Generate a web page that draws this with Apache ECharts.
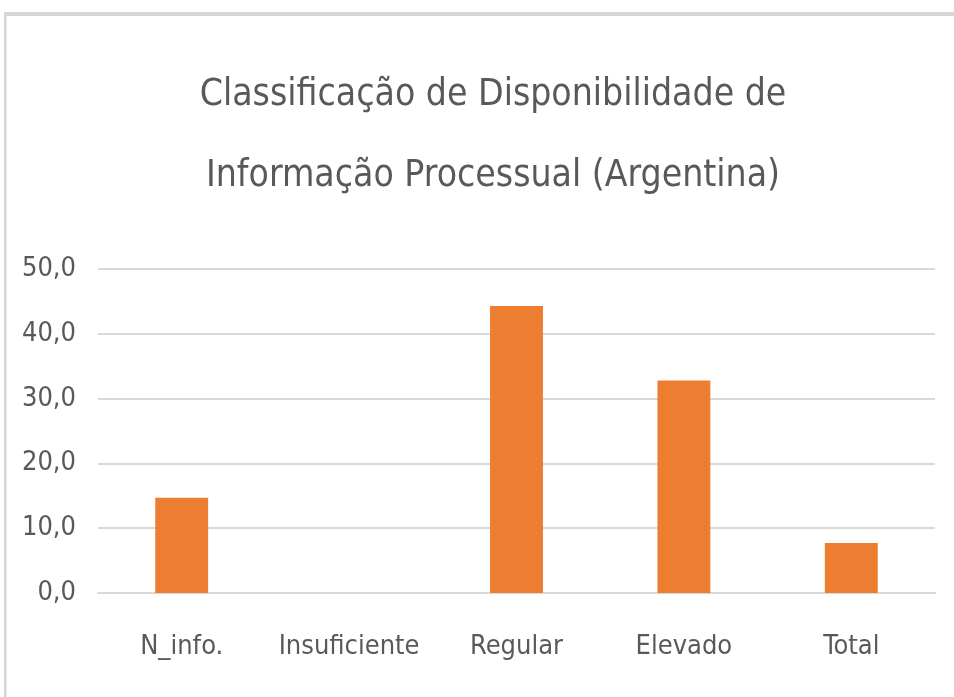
<!DOCTYPE html>
<html>
<head>
<meta charset="utf-8">
<style>
  html, body { margin: 0; padding: 0; background: #fff; }
  #chart { width: 954px; height: 697px; }
</style>
<script src="https://cdn.jsdelivr.net/npm/echarts@6/dist/echarts.min.js"></script>
</head>
<body>
<div id="chart"></div>
<script>
// data
var categories = ['N_info.', 'Insuficiente', 'Regular', 'Elevado', 'Total']
var values = [14.7, 0, 44.3, 32.8, 7.7]
var yTicks = [0, 10, 20, 30, 40, 50]

var font = '"DejaVu Sans Condensed", "Liberation Sans Narrow", sans-serif'
var chart = echarts.init(document.getElementById('chart'))

chart.setOption({
  animation: false,
  // frame around the chart area
  graphic: [
    { type: 'rect', shape: { x: 4, y: 12, width: 960, height: 4 }, style: { fill: '#d6d6d6' } },
    { type: 'rect', shape: { x: 4, y: 12, width: 2.5, height: 700 }, style: { fill: '#d6d6d6' } }
  ],
  title: {
    text: 'Classificação de Disponibilidade de\nInformação Processual (Argentina)',
    left: 488,
    textAlign: 'center',
    top: 50,
    textStyle: {
      fontFamily: font,
      fontSize: 37,
      fontWeight: 'normal',
      color: '#595959',
      lineHeight: 81
    }
  },
  grid: {
    left: 98,
    right: 19,
    top: 269,
    bottom: 104
  },
  xAxis: {
    type: 'category',
    data: categories,
    axisLine: { lineStyle: { color: '#d9d9d9', width: 2 } },
    axisTick: { show: false },
    axisLabel: {
      interval: 0,
      margin: 40,
      fontFamily: font,
      fontSize: 27,
      color: '#595959'
    }
  },
  yAxis: {
    type: 'value',
    min: yTicks[0],
    max: yTicks[yTicks.length - 1],
    interval: 10,
    axisLine: { show: false },
    axisTick: { show: false },
    splitLine: { lineStyle: { color: '#d9d9d9', width: 2 } },
    axisLabel: {
      margin: 22,
      fontFamily: font,
      fontSize: 27,
      color: '#595959',
      formatter: function (v) {
        return v.toFixed(1).replace('.', ',')
      }
    }
  },
  series: [{
    type: 'bar',
    data: values,
    barWidth: '31.6%',
    itemStyle: { color: '#ed7d31' }
  }]
})
</script>
</body>
</html>
